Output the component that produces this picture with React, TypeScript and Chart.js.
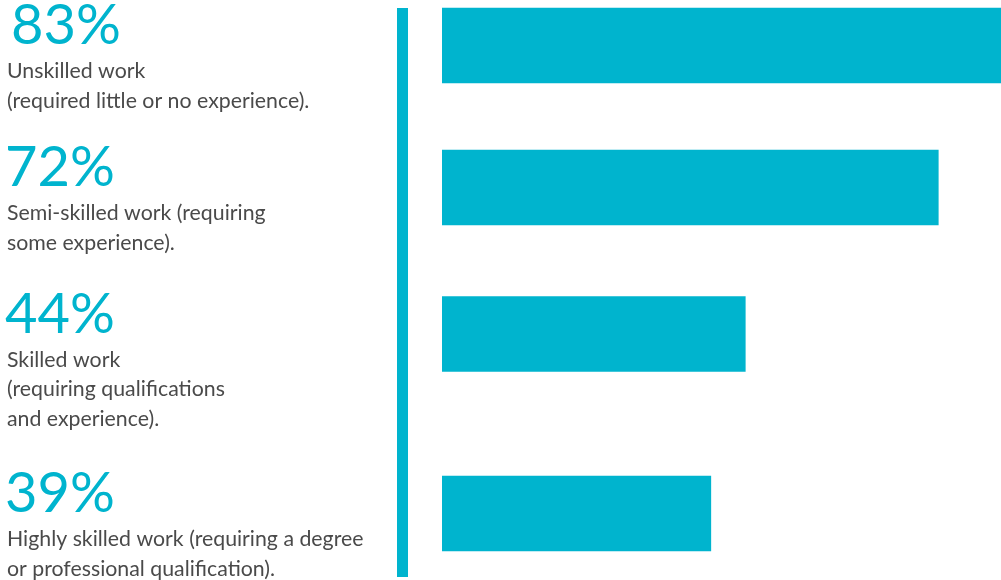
import React, { useEffect, useRef } from "react";
import { Chart, registerables } from "chart.js";

Chart.register(...registerables);

const percentLabels = ["83%", "72%", "44%", "39%"];
const values = [83, 72, 44, 39];
const descriptions = [
  ["Unskilled work", "(required little or no experience)."],
  ["Semi-skilled work (requiring", "some experience)."],
  ["Skilled work", "(requiring qualifications", "and experience)."],
  ["Highly skilled work (requiring a degree", "or professional qualification)."],
];
// vertical position of each row on the (hidden) row axis
const rowPositions = [0.455, 1.875, 3.34, 5.135];

const CYAN = "#00B4CE";
const GRAY = "#4A4A4A";

const textPlugin = {
  id: "sideText",
  beforeDraw(chart: any) {
    const ctx = chart.ctx;
    ctx.save();
    ctx.fillStyle = CYAN;
    ctx.fillRect(397, 8, 11, 569);
    ctx.restore();
  },
  afterDraw(chart: any) {
    const ctx = chart.ctx;
    const meta = chart.getDatasetMeta(0);
    ctx.save();
    meta.data.forEach((bar: any, i: number) => {
      const base = bar.y - 1.5;
      ctx.fillStyle = CYAN;
      ctx.font = "400 56px Lato";
      ctx.textBaseline = "alphabetic";
      ctx.textAlign = "left";
      ctx.fillText(percentLabels[i], i === 0 ? 11 : 5, base);
      ctx.fillStyle = GRAY;
      ctx.font = "400 21.3px Lato";
      descriptions[i].forEach((line, j) => {
        ctx.fillText(line, 7, base + 34 + j * 29.5);
      });
    });
    ctx.restore();
  },
};

export default function App() {
  const ref = useRef<HTMLCanvasElement>(null);
  useEffect(() => {
    if (!ref.current) return;
    const chart = new Chart(ref.current, {
      type: "bar",
      data: {
        datasets: [
          {
            data: values.map((v, i) => ({ x: v, y: rowPositions[i] })),
            backgroundColor: CYAN,
            borderWidth: 0,
            barThickness: 75,
          },
        ],
      },
      options: {
        indexAxis: "y",
        animation: false,
        responsive: false,
        layout: { padding: { left: 442, right: 0, top: 0, bottom: 0 } },
        plugins: { legend: { display: false }, tooltip: { enabled: false } },
        scales: {
          x: { type: "linear", min: 0, max: 81.1, display: false },
          y: { type: "linear", min: 0, max: 5.8, reverse: true, offset: false, display: false },
        },
      },
      plugins: [textPlugin],
    });
    return () => chart.destroy();
  }, []);
  return (
    <div style={{ position: "fixed", left: 0, top: 0, width: 1001, height: 580, background: "#fff" }}>
      <canvas ref={ref} width={1001} height={580} style={{ display: "block" }} />
    </div>
  );
}
